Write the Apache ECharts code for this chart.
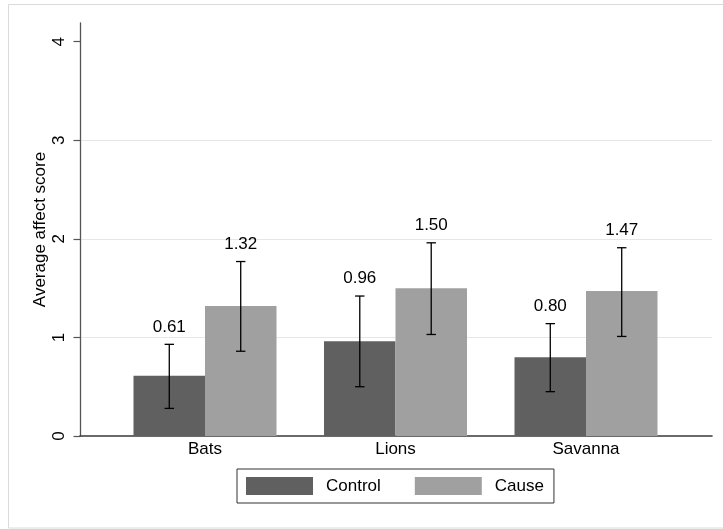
<!DOCTYPE html>
<html>
<head>
<meta charset="utf-8">
<script src="https://cdn.jsdelivr.net/npm/echarts@6/dist/echarts.min.js"></script>
<style>html,body{margin:0;padding:0;background:#fff}#c{width:723px;height:529px}</style>
</head>
<body>
<div id="c"></div>
<script>
var categories = ['Bats', 'Lions', 'Savanna'];
var controlMean = [0.61, 0.96, 0.80];
var causeMean = [1.32, 1.50, 1.47];
var controlLow = [0.28, 0.50, 0.45];
var controlHigh = [0.93, 1.42, 1.14];
var causeLow = [0.86, 1.03, 1.01];
var causeHigh = [1.77, 1.96, 1.91];
var yTicks = [0, 1, 2, 3, 4];
var gridValues = [1, 2, 3];

var FONT = 'Helvetica, Arial, "Liberation Sans", sans-serif';
var chart = echarts.init(document.getElementById('c'), null, {renderer: 'canvas'});

function errData(low, high, mean) {
  return categories.map(function (c, i) { return [i, low[i], high[i], mean[i]]; });
}
function errSeries(name, low, high, mean, side) {
  return {
    type: 'custom', name: name + ' err', xAxisIndex: 1, yAxisIndex: 1, z: 5, silent: true,
    data: errData(low, high, mean),
    renderItem: function (params, api) {
      var band = api.size([1, 0])[0];
      var c = api.coord([api.value(0), 0]);
      var x = c[0] + side * band * 0.1875;
      var yl = api.coord([api.value(0), api.value(1)])[1];
      var yh = api.coord([api.value(0), api.value(2)])[1];
      var cap = 4.7;
      var st = {stroke: '#000', lineWidth: 1.3};
      return {type: 'group', children: [
        {type: 'line', shape: {x1: x, y1: yl, x2: x, y2: yh}, style: st},
        {type: 'line', shape: {x1: x - cap, y1: yl, x2: x + cap, y2: yl}, style: st},
        {type: 'line', shape: {x1: x - cap, y1: yh, x2: x + cap, y2: yh}, style: st},
        {type: 'text', x: x, y: yh - 17.5, style: {text: api.value(3).toFixed(2), align: 'center', verticalAlign: 'middle', font: '17px ' + FONT, fill: '#000'}}
      ]};
    }
  };
}

chart.setOption({
  animation: false,
  backgroundColor: '#fff',
  graphic: [{type: 'rect', shape: {x: 8.5, y: 4.5, width: 730, height: 523.5}, style: {fill: 'none', stroke: '#dadada', lineWidth: 1}, z: -10}],
  legend: {
    left: 237, top: 469, orient: 'horizontal',
    data: ['Control', 'Cause'],
    icon: 'rect', itemWidth: 67, itemHeight: 18, itemGap: 34,
    padding: [8, 10, 8, 9],
    borderColor: '#333', borderWidth: 1,
    textStyle: {fontFamily: FONT, fontSize: 17, color: '#000', padding: [0, 0, 0, 8]}
  },
  grid: [
    {left: 80, right: 11, top: 23, bottom: 93, containLabel: false},
    {left: 109.75, right: 41.75, top: 23, bottom: 93, containLabel: false}
  ],
  xAxis: [
    {gridIndex: 0, type: 'value', min: 0, max: 1, axisLine: {show: true, lineStyle: {color: '#3a3a3a', width: 1.6}},
     axisTick: {show: false}, axisLabel: {show: false}, splitLine: {show: false}},
    {gridIndex: 1, type: 'category', data: categories, axisLine: {show: false}, axisTick: {show: false},
     axisLabel: {fontFamily: FONT, fontSize: 17, color: '#000', margin: 5}, splitLine: {show: false}}
  ],
  yAxis: [
    {gridIndex: 0, type: 'value', min: 0, max: 4.19, interval: 1,
     name: 'Average affect score', nameLocation: 'middle', nameGap: 31, nameRotate: 90, nameMoveOverlap: false,
     nameTextStyle: {fontFamily: FONT, fontSize: 17, color: '#000'},
     axisLine: {show: true, lineStyle: {color: '#555', width: 1.3}},
     axisTick: {show: true, length: 6.5, customValues: yTicks, lineStyle: {color: '#555', width: 1.2}},
     axisLabel: {customValues: yTicks, rotate: 90, fontFamily: FONT, fontSize: 17, color: '#000', margin: 12},
     splitLine: {show: false}},
    {gridIndex: 1, type: 'value', min: 0, max: 4.19, show: false, splitLine: {show: false}}
  ],
  series: [
    {type: 'line', xAxisIndex: 0, yAxisIndex: 0, data: [], silent: true, z: 0,
     markLine: {silent: true, symbol: 'none', label: {show: false}, animation: false, z: 0, zlevel: 0,
       lineStyle: {color: '#e6e6e6', width: 1.2, type: 'solid'},
       data: gridValues.map(function (v) { return {yAxis: v}; })}},
    {type: 'bar', name: 'Control', xAxisIndex: 1, yAxisIndex: 1, data: controlMean, barWidth: 71.5, barGap: '0%',
     itemStyle: {color: '#606060'}, z: 2},
    {type: 'bar', name: 'Cause', xAxisIndex: 1, yAxisIndex: 1, data: causeMean, barWidth: 71.5, barGap: '0%',
     itemStyle: {color: '#a0a0a0'}, z: 2},
    errSeries('Control', controlLow, controlHigh, controlMean, -1),
    errSeries('Cause', causeLow, causeHigh, causeMean, 1)
  ]
});
</script>
</body>
</html>
